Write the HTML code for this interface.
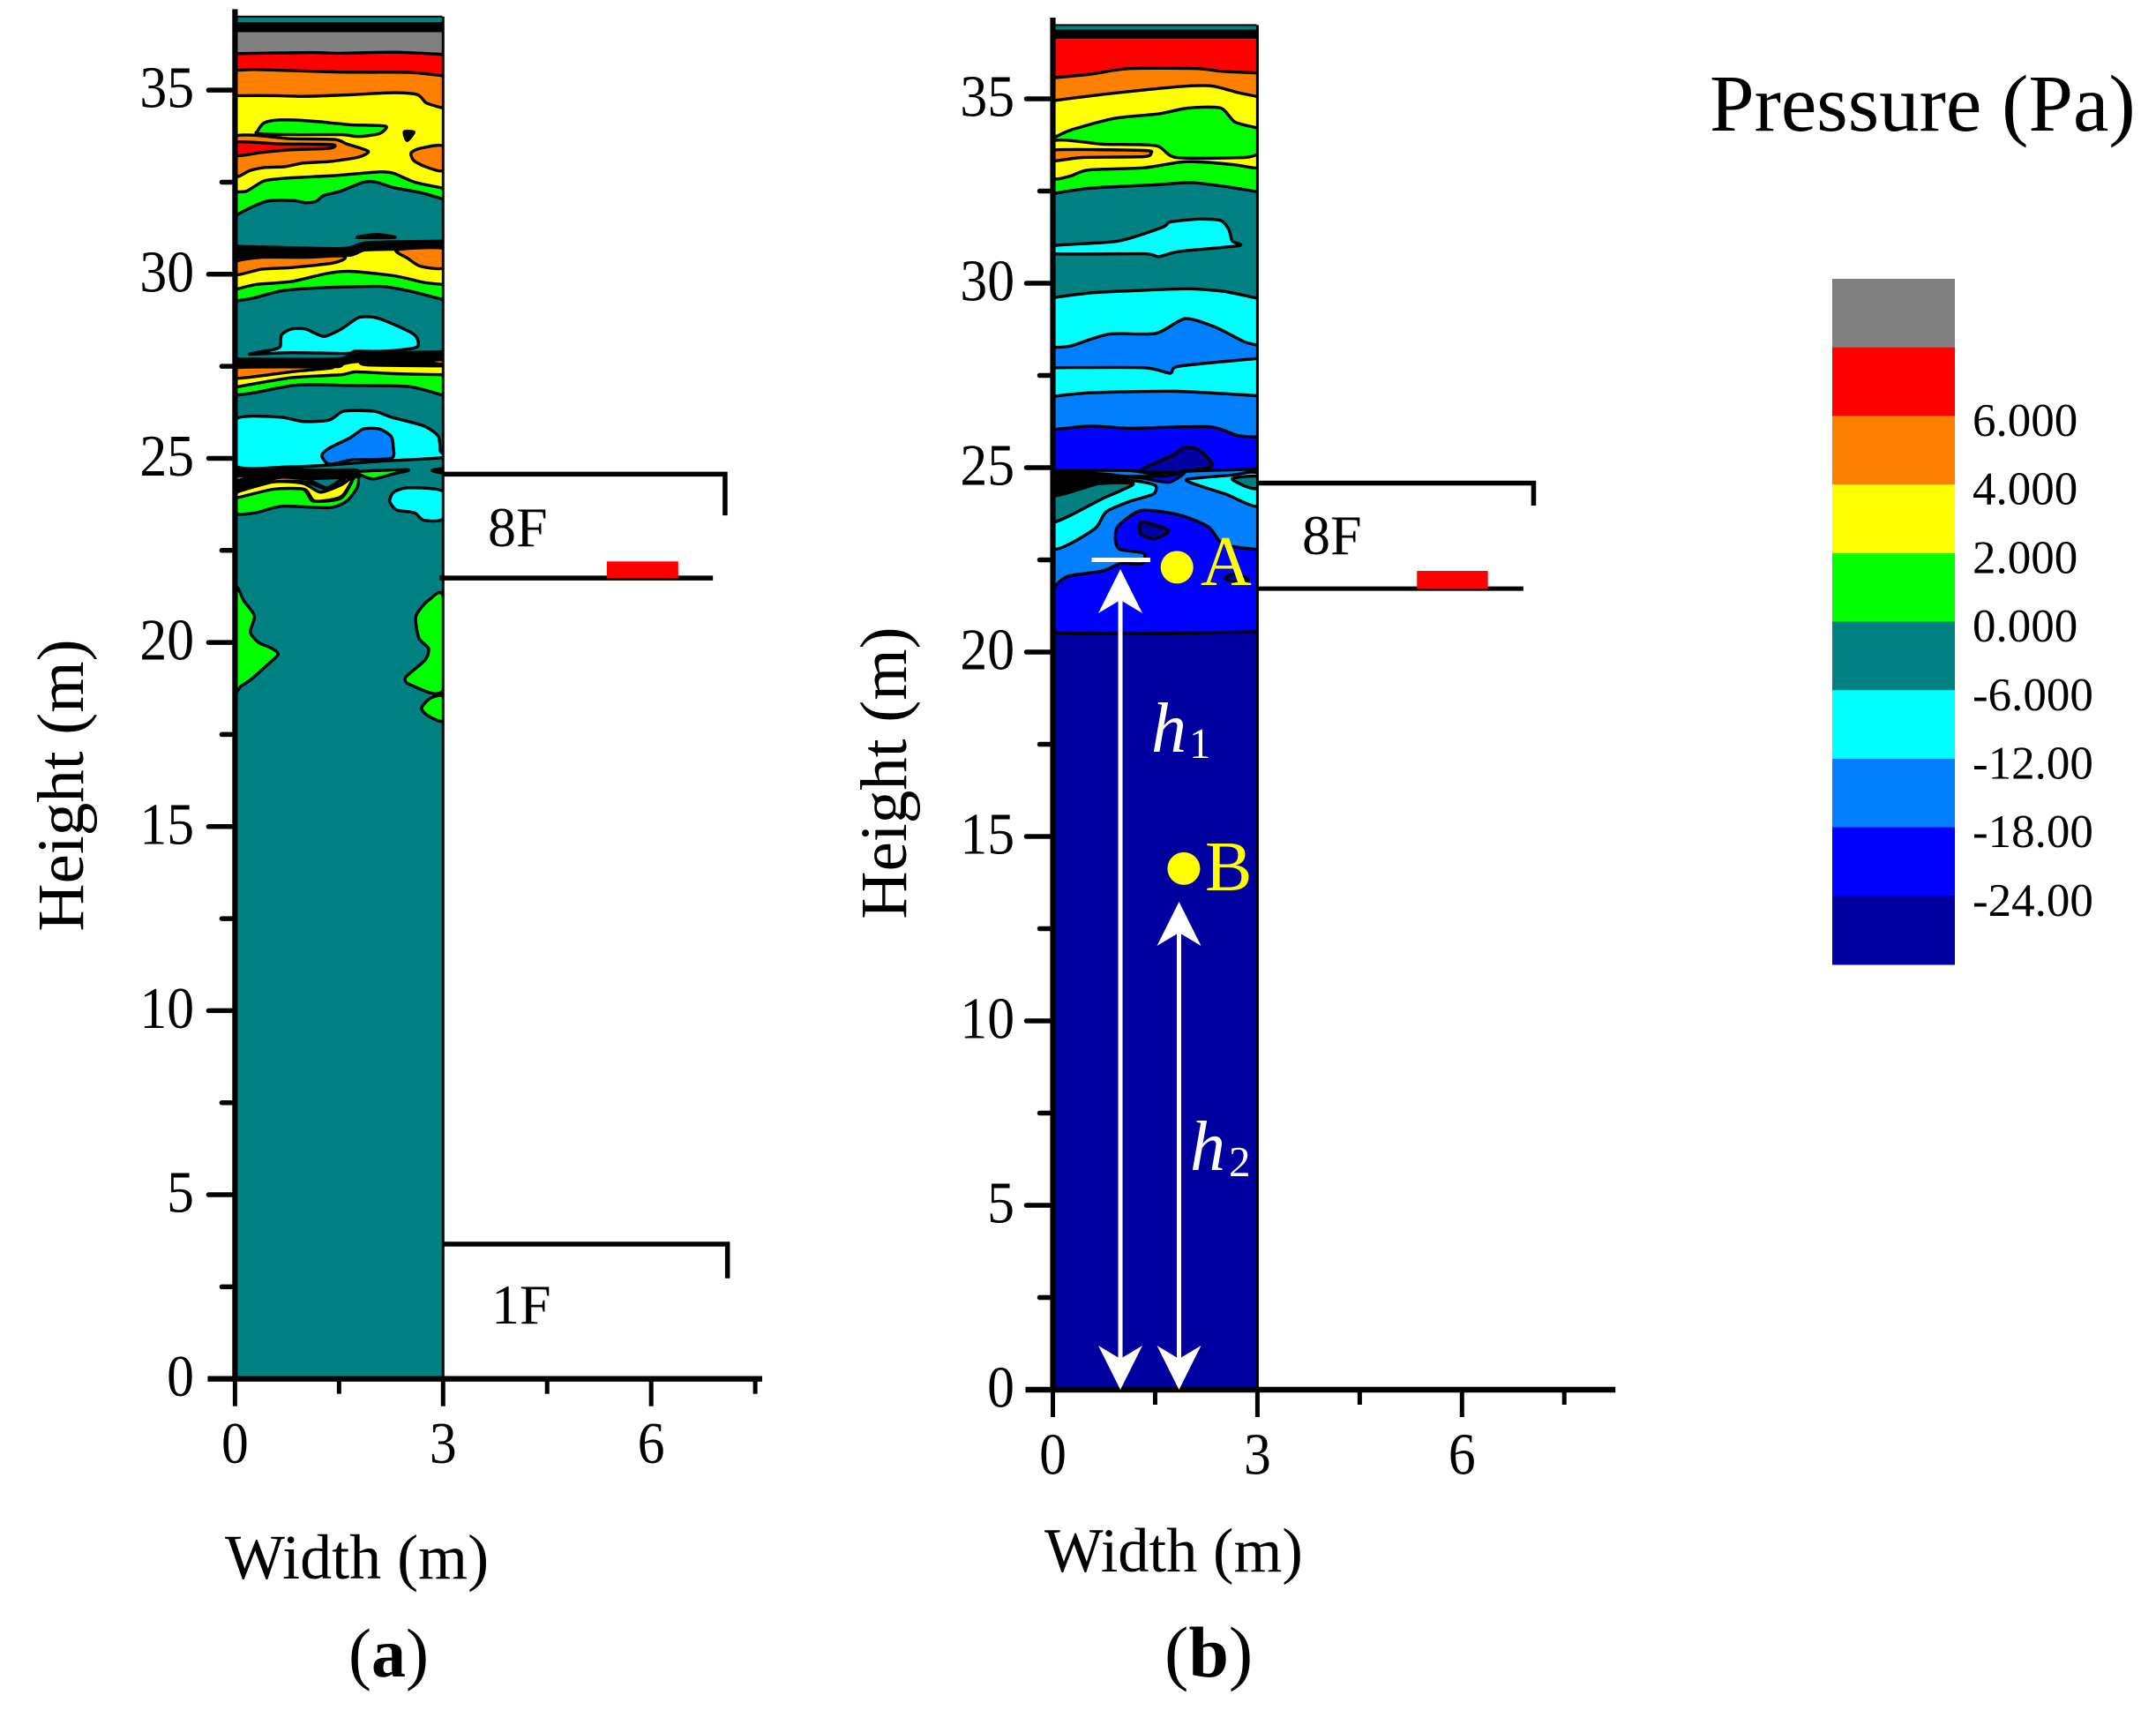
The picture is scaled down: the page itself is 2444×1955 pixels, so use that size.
<!DOCTYPE html>
<html lang="en">
<head>
<meta charset="utf-8">
<title>Pressure contours</title>
<style>
html,body{margin:0;padding:0;background:#fff;}
body{width:2444px;height:1955px;overflow:hidden;}
svg{display:block;}
text{font-family:"Liberation Serif",serif;fill:#000;}
</style>
</head>
<body>
<svg id="fig" xmlns="http://www.w3.org/2000/svg" width="2444" height="1955" viewBox="0 0 2444 1955">
  <rect width="2444" height="1955" fill="#fff"/>
  <text x="1938" y="148" font-size="91">Pressure (Pa)</text>
  <text x="255" y="1789" font-size="72">Width (m)</text>
  <text x="1184" y="1781" font-size="70.5">Width (m)</text>
  <text transform="translate(94,890) rotate(-90)" text-anchor="middle" font-size="75">Height (m)</text>
  <text transform="translate(1027,876) rotate(-90)" text-anchor="middle" font-size="75">Height (m)</text>
  <text x="395" y="1900" font-size="78">(<tspan font-weight="bold">a</tspan>)</text>
  <text x="1320" y="1900" font-size="82">(<tspan font-weight="bold">b</tspan>)</text>
  <g id="panelA"></g>
  <g id="panelB"></g>
  <g id="legend"></g>
</svg>
<script>
// ---------- Palette and legend data ----------
const GRAY='#808080',RED='#ff0000',ORANGE='#ff8000',YELLOW='#ffff00',GREEN='#00ff00',TEAL='#008080',CYAN='#00ffff',BLUE='#0080ff',BRIGHT='#0000ff',NAVY='#0000a0',BLACK='#000000';
const legendColors=[GRAY,RED,ORANGE,YELLOW,GREEN,TEAL,CYAN,BLUE,BRIGHT,NAVY];
const legendLabels=['6.000','4.000','2.000','0.000','-6.000','-12.00','-18.00','-24.00'];

// ---------- Axis tick values ----------
const yMajorTicks=[0,5,10,15,20,25,30,35];
const yMinorTicks=[2.5,7.5,12.5,17.5,22.5,27.5,32.5];
const xMajorTicks=[0,3,6];
const xMinorTicks=[1.5,4.5,7.5];

// ---------- Panel (a) contours: [width m, height m] ----------
const aRedTop=[[0,35.99],[1.1,36.02],[1.5,36.0],[2.3,36.03],[3,35.97]];
const aOrangeTop=[[0,35.53],[0.3,35.56],[1.5,35.49],[2.5,35.48],[3,35.39]];
const aYellowTop=[[0,34.85],[0.6,34.85],[1,34.83],[1.6,34.87],[2.29,34.93],[2.63,34.88],[2.76,34.65],[3,34.51]];
const aGreenIsland=[[0.33,33.9],[0.41,34.1],[0.56,34.18],[0.85,34.19],[1.23,34.14],[1.66,34.06],[2.17,34.02],[2.08,33.82],[1.78,33.74],[1.53,33.79],[0.81,33.79],[0.33,33.82]];
const aBlackSpot=[[2.44,33.87],[2.58,33.86],[2.48,33.63]];
const aOrangeTongue=[[0,33.74],[0.81,33.68],[1.44,33.66],[1.61,33.54],[1.92,33.34],[1.78,33.18],[1.36,33.06],[0.98,33.02],[0.72,32.92],[0.43,32.9],[0.22,32.82],[0,32.68]];
const aRedTongue=[[0,33.59],[0.64,33.54],[1.4,33.52],[1.36,33.42],[0.81,33.38],[0.39,33.31],[0,33.22]];
const aOrangeRight=[[3,33.48],[2.67,33.42],[2.54,33.3],[2.57,33.1],[2.72,32.94],[3,32.82]];
const aGreenTop=[[0,32.24],[0.17,32.26],[0.43,32.54],[0.81,32.62],[1.44,32.68],[2.08,32.78],[2.29,32.74],[2.59,32.5],[3,32.34]];
const aTealTop=[[0,31.58],[0.17,31.76],[0.47,31.99],[0.85,32],[1.02,31.94],[1.17,31.98],[1.28,32.14],[1.53,32.26],[1.85,32.5],[2.04,32.5],[2.29,32.35],[2.67,32.22],[3,32.04]];
const aBlackDash=[[1.76,31],[2.04,31.08],[2.31,31]];
const aBlackBand1=[[0,30.76],[1.53,30.7],[1.91,30.86],[3,30.9]];
const aYellow2Top=[[0,30.46],[1.53,30.5],[1.74,30.56],[1.87,30.66],[2.33,30.68],[3,30.7]];
const aOrange2Left=[[0,30.34],[0.39,30.46],[1.02,30.46],[1.53,30.5],[1.58,30.42],[1.4,30.3],[0.81,30.18],[0.39,30.14],[0,29.98]];
const aOrange2Right=[[2.33,30.66],[2.5,30.42],[2.67,30.22],[3,30.17],[3,30.7]];
const aGreen2Top=[[0,29.58],[0.3,29.72],[0.81,29.8],[1.32,30.02],[1.66,30.08],[2.29,29.96],[2.72,29.78],[3,29.72]];
const aTeal2Top=[[0,29.27],[0.26,29.35],[0.68,29.55],[1.23,29.63],[2.08,29.67],[2.5,29.55],[3,29.31]];
const aCyanIsland=[[0.21,27.83],[0.51,27.94],[0.65,28.03],[0.67,28.35],[0.81,28.51],[1.02,28.51],[1.28,28.31],[1.53,28.51],[1.78,28.82],[2,28.83],[2.25,28.67],[2.59,28.35],[2.62,28.02],[2.17,27.91],[1.74,27.91],[1.61,27.85],[0.81,27.87]];
const aBlackBand2=[[0,27.7],[1.44,27.7],[1.78,27.83],[3,27.9]];
const aYellow3Top=[[0,27.46],[1.06,27.49],[1.49,27.49],[1.57,27.57],[1.78,27.63],[1.91,27.54],[3,27.51]];
const aOrange3Left=[[0,27.46],[1.4,27.47],[0.81,27.35],[0,27.17]];
const aOrange3Right=[[2.72,27.62],[3,27.68],[3,27.56]];
const aGreen3Top=[[0,26.93],[0.81,27.19],[1.53,27.27],[1.74,27.35],[2.29,27.3],[3,27.27]];
const aTeal3Top=[[0,26.71],[0.3,26.79],[0.89,26.99],[1.66,26.98],[2.5,26.95],[3,26.71]];
const aCyanBig=[[0,26.05],[0.64,26.12],[0.98,26],[1.36,26.04],[1.57,26.28],[2,26.28],[2.25,26.12],[2.72,25.88],[2.93,25.6],[2.96,25.2],[3,25.02],[2.08,24.92],[1.36,24.82],[0.81,24.77],[0,24.8]];
const aBlueIsland=[[1.25,25.08],[1.36,25.28],[1.66,25.56],[1.85,25.8],[2.08,25.8],[2.25,25.6],[2.28,25.32],[2.25,25],[1.7,24.96],[1.36,24.84]];
const aGreenWave=[[0,23.92],[0.53,24.16],[0.98,24.16],[1.13,23.84],[1.53,23.92],[1.72,24.48],[1.78,24.48],[1.76,24.2],[1.61,23.84],[1.36,23.66],[0.68,23.7],[0.3,23.52],[0,23.5]];
const aYellowWave=[[0,24.06],[0.53,24.36],[0.98,24.32],[1.23,24.08],[1.53,24.28],[1.7,24.48],[1.53,23.96],[1.15,23.84],[1,24.16],[0.55,24.16],[0,23.92]];
const aOrangeWave=[[0,24.16],[0.64,24.48],[1.02,24.45],[1.32,24.2],[1.57,24.48],[1.53,24.32],[1.32,24.16],[1.02,24.36],[0.55,24.36],[0,24.08]];
const aBlackWave=[[0,24.68],[1.36,24.68],[1.75,24.68],[1.8,24.52],[1.57,24.48],[1.02,24.45],[0.64,24.48],[0,24.2]];
const aGrayWedge=[[0,24.52],[0.2,24.5],[0,24.38]];
const aGreenSliver=[[1.78,24.64],[2.5,24.69],[2.25,24.56],[2,24.44],[1.85,24.52]];
const aBlackSliver=[[2.84,24.67],[3,24.72],[3,24.6]];
const aCyanRight=[[3,24.1],[2.5,24.2],[2.29,24.08],[2.23,23.84],[2.33,23.6],[2.59,23.52],[2.72,23.32],[3,23.36]];
const aGreenLeft=[[0,21.44],[0.13,21.12],[0.28,20.72],[0.22,20.28],[0.34,20],[0.53,19.84],[0.62,19.67],[0.43,19.33],[0.24,19.01],[0.09,18.82],[0,18.81]];
const aGreenRight=[[3,21.23],[2.8,21.16],[2.61,20.72],[2.65,20.12],[2.79,19.84],[2.74,19.52],[2.46,19.05],[2.53,18.85],[3,18.71]];
const aGreenRight2=[[3,18.53],[2.82,18.49],[2.69,18.22],[2.78,18.01],[3,17.87]];

// ---------- Panel (b) contours: [width m, height m] ----------
const bOrangeTop=[[0,35.57],[0.56,35.67],[1.12,35.82],[2.11,35.82],[2.46,35.75],[3,35.7]];
const bYellowTop=[[0,34.95],[0.78,35.13],[1.85,35.33],[2.33,35.35],[2.71,35.17],[3,35.06]];
const bGreenTop=[[0,33.93],[0.26,34.15],[0.9,34.47],[1.55,34.59],[1.98,34.75],[2.46,34.75],[2.67,34.37],[3,34.21]];
const bYellowTongue=[[0,33.85],[0.73,33.77],[1.51,33.73],[1.81,33.41],[2.8,33.41],[3,33.47],[3,33.13],[2.67,33.21],[2.15,33.29],[1.85,33.28],[1.33,33.13],[0.52,33.07],[0.26,32.91],[0,32.87]];
const bOrangeTongue=[[0,33.61],[1.33,33.6],[1.44,33.53],[1.33,33.43],[0.43,33.41],[0,33.32]];
const bTealTop=[[0,32.43],[0.56,32.58],[1.51,32.67],[2.02,32.73],[2.5,32.63],[3,32.48]];
const bCyanIsland=[[0,31.02],[0.95,31.14],[1.61,31.52],[1.72,31.66],[2.15,31.74],[2.46,31.7],[2.58,31.46],[2.63,31.14],[2.73,31.02],[1.85,30.86],[1.55,30.72],[1.33,30.8],[0,30.8]];
const bCyanTop=[[0,29.61],[0.56,29.74],[1.2,29.8],[1.98,29.85],[2.5,29.78],[3,29.59]];
const bBlueTop=[[0,28.26],[0.26,28.3],[0.82,28.62],[1.51,28.64],[1.94,29.04],[2.37,28.82],[2.8,28.42],[3,28.32]];
const bCyan2Top=[[0,27.71],[1.33,27.71],[1.72,27.56],[1.85,27.75],[3,27.96]];
const bBlue2Top=[[0,26.93],[0.56,27.03],[1.81,27.07],[3,26.95]];
const bBrightTop=[[0,26.03],[0.56,26.13],[1.12,26.07],[2.28,26.11],[2.71,25.87],[3,25.83]];
const bNavyHump=[[1.29,24.92],[1.72,25.31],[1.94,25.55],[2.15,25.47],[2.33,25.04],[1.77,24.88]];
const bBlue3Top=[[0,24.92],[1.12,24.92],[1.64,24.77],[1.94,24.9],[3,24.96]];
const bBrightSliver=[[0.78,24.76],[1.64,24.77],[1.94,24.88],[1.7,24.6],[1.3,24.72]];
const bCyanLeft=[[0,24.2],[0.65,24.64],[1.2,24.64],[1.5,24.52],[1.47,24.28],[1.12,24.08],[0.78,23.8],[0.6,23.32],[0,22.8]];
const bTealLeft=[[0,24.28],[0.65,24.56],[1.18,24.56],[0.73,24.16],[0,23.52]];
const bBlackLeft=[[0,24.88],[0.65,24.84],[1.1,24.74],[0.65,24.56],[0,24.24]];
const bGreenSliver=[[0.04,24.36],[0.47,24.48],[0.15,24.32]];
const bCyanRight=[[1.96,24.68],[2.63,24.8],[3,24.84],[3,23.96],[2.54,24.28],[2.2,24.48]];
const bTealRight=[[2.63,24.7],[3,24.76],[3,24.44],[2.84,24.48]];
const bBright2Top=[[0,21.73],[0.21,22.05],[0.73,22.2],[0.99,22.4],[1.31,22.4],[1.33,22.68],[0.99,22.78],[0.92,23],[0.95,23.4],[1.29,23.84],[1.85,23.72],[2.28,23.4],[2.5,22.92],[3,22.78]];
const bNavySpot=[[1.29,23.52],[1.51,23.44],[1.7,23.28],[1.49,23.07],[1.29,23.2]];
const bNavySpot2=[[2.52,22],[2.67,22.12],[2.87,21.97],[2.71,21.89]];
const bNavyTop=[[0,20.52],[1,20.5],[2,20.52],[3,20.55]];

// ---------- Annotations in panel (b), data units ----------
const pointA=[1.82,22.3];
const pointB=[1.92,14.13];
const arrowH1=[0.99,22.25,0];
const arrowH2=[1.85,13.23,0];
const tickMarkA=[0.57,1.43,22.5];

// ---------- Band/cap heights ----------
const aCapHeights=[37,36.85,36.57];
const bCapHeights=[37,36.88,36.62];

const NS='http://www.w3.org/2000/svg';
const CONTOUR_W=3.4;
function mk(parent,tag,attrs,name){
  const el=document.createElementNS(NS,tag);
  for(const k in attrs) el.setAttribute(k,attrs[k]);
  
  
  parent.appendChild(el);
  return el;
}
function makeAxes(x0,xPerM,y0,yPerM){
  return {x:v=>x0+v*xPerM,y:v=>y0-v*yPerM};
}
function smooth(pts,closed){
  const n=pts.length;
  if(n<3) return 'M'+pts.map(p=>p[0].toFixed(1)+' '+p[1].toFixed(1)).join('L');
  const at=i=>closed?pts[(i+n)%n]:pts[Math.max(0,Math.min(n-1,i))];
  let d='M'+pts[0][0].toFixed(1)+' '+pts[0][1].toFixed(1);
  const last=closed?n:n-1;
  for(let i=0;i<last;i++){
    const p0=at(i-1),p1=at(i),p2=at(i+1),p3=at(i+2);
    const t=0.12;
    d+='C'+(p1[0]+(p2[0]-p0[0])*t).toFixed(1)+' '+(p1[1]+(p2[1]-p0[1])*t).toFixed(1)+' '+(p2[0]-(p3[0]-p1[0])*t).toFixed(1)+' '+(p2[1]-(p3[1]-p1[1])*t).toFixed(1)+' '+p2[0].toFixed(1)+' '+p2[1].toFixed(1);
  }
  return d;
}
function fillBelow(g,ax,pts,color,name){
  const P=pts.map(p=>[ax.x(p[0]),ax.y(p[1])]);
  const line=smooth(P,false);
  const d=line+'L'+ax.x(3)+' '+ax.y(0)+'L'+ax.x(0)+' '+ax.y(0)+'Z';
  mk(g,'path',{d:d,fill:color,stroke:'none'},name);
  mk(g,'path',{d:line,fill:'none',stroke:'#000','stroke-width':CONTOUR_W,'stroke-linejoin':'round'},name+'-line');
}
function island(g,ax,pts,color,name){
  const P=pts.map(p=>[ax.x(p[0]),ax.y(p[1])]);
  mk(g,'path',{d:smooth(P,true)+'Z',fill:color,stroke:'#000','stroke-width':CONTOUR_W,'stroke-linejoin':'round'},name);
}
function capBand(g,ax,h1,h2,color,name){
  mk(g,'rect',{x:ax.x(0),y:ax.y(h1),width:ax.x(3)-ax.x(0),height:ax.y(h2)-ax.y(h1),fill:color},name);
}
function tickText(g,x,y,s,anchor,name){
  const t=mk(g,'text',{transform:'translate('+x+','+y+') scale(0.92,1)','text-anchor':anchor,'font-size':67},name);
  t.textContent=s;
}
function drawAxes(g,ax,xEnd,yLeftExt,labelRight,labelBase,pn){
  mk(g,'line',{x1:ax.x(3),y1:ax.y(37),x2:ax.x(3),y2:ax.y(0),stroke:'#000','stroke-width':3},pn+'-panel-right-edge');
  mk(g,'line',{x1:ax.x(3)-1,y1:ax.y(37),x2:ax.x(0),y2:ax.y(37),stroke:'#000','stroke-width':2},pn+'-panel-top-edge');
  mk(g,'line',{x1:ax.x(0),y1:ax.y(37.2),x2:ax.x(0),y2:ax.y(0)+3,stroke:'#000','stroke-width':6.2},pn+'-y-axis-line');
  mk(g,'line',{x1:yLeftExt,y1:ax.y(0),x2:ax.x(xEnd),y2:ax.y(0),stroke:'#000','stroke-width':6.4},pn+'-x-axis-line');
  yMajorTicks.forEach(v=>{
    if(v>0) mk(g,'line',{x1:ax.x(0)-30,y1:ax.y(v),x2:ax.x(0),y2:ax.y(v),stroke:'#000','stroke-width':5.5,'stroke-linecap':'round'},pn+'-y-tick');
    tickText(g,labelRight,ax.y(v)+19.5,String(v),'end',pn+'-y-tick-label');
  });
  yMinorTicks.forEach(v=>{
    mk(g,'line',{x1:ax.x(0)-15,y1:ax.y(v),x2:ax.x(0),y2:ax.y(v),stroke:'#000','stroke-width':5.5,'stroke-linecap':'round'},pn+'-y-minor-tick');
  });
  xMajorTicks.forEach(v=>{
    mk(g,'line',{x1:ax.x(v),y1:ax.y(0),x2:ax.x(v),y2:ax.y(0)+31,stroke:'#000','stroke-width':5},pn+'-x-tick');
    tickText(g,ax.x(v),labelBase,String(v),'middle',pn+'-x-tick-label');
  });
  xMinorTicks.forEach(v=>{
    mk(g,'line',{x1:ax.x(v),y1:ax.y(0),x2:ax.x(v),y2:ax.y(0)+17,stroke:'#000','stroke-width':5},pn+'-x-minor-tick');
  });
}
function floorOutline(g,ax,yTopH,xEndM,yDropH,pn,label){
  const xs=ax.x(3);
  mk(g,'path',{d:'M'+xs+' '+ax.y(yTopH)+'L'+ax.x(xEndM)+' '+ax.y(yTopH)+'L'+ax.x(xEndM)+' '+ax.y(yDropH),fill:'none',stroke:'#000','stroke-width':5.5},pn+'-'+label+'-wall');
}
function clipGroup(svgRoot,parent,ax,id){
  const defs=mk(svgRoot,'defs',{},id+'-defs');
  const cp=document.createElementNS(NS,'clipPath');
  cp.setAttribute('id',id);
  defs.appendChild(cp);
  const r=document.createElementNS(NS,'rect');
  r.setAttribute('x',ax.x(0));
  r.setAttribute('y',ax.y(37));
  r.setAttribute('width',ax.x(3)-ax.x(0));
  r.setAttribute('height',ax.y(0)-ax.y(37));
  cp.appendChild(r);
  return mk(parent,'g',{'clip-path':'url(#'+id+')'},id+'-contours');
}

const svgRoot=document.getElementById('fig');

// ===== Panel (a) =====
(function(){
  const root=document.getElementById('panelA');
  const ax=makeAxes(266.4,78.63,1562.7,41.73);
  const g=clipGroup(svgRoot,root,ax,'clipA');
  capBand(g,ax,aCapHeights[0],aCapHeights[1],TEAL,'a-top-teal-band');
  capBand(g,ax,aCapHeights[1],aCapHeights[2],BLACK,'a-top-black-band');
  capBand(g,ax,aCapHeights[2],35.5,GRAY,'a-gray-band');
  fillBelow(g,ax,aRedTop,RED,'a-red-region');
  fillBelow(g,ax,aOrangeTop,ORANGE,'a-orange-region');
  fillBelow(g,ax,aYellowTop,YELLOW,'a-yellow-region');
  island(g,ax,aGreenIsland,GREEN,'a-green-island');
  island(g,ax,aBlackSpot,BLACK,'a-black-spot');
  island(g,ax,aOrangeTongue,ORANGE,'a-orange-tongue');
  island(g,ax,aRedTongue,RED,'a-red-tongue');
  island(g,ax,aOrangeRight,ORANGE,'a-orange-right');
  fillBelow(g,ax,aGreenTop,GREEN,'a-green-region');
  fillBelow(g,ax,aTealTop,TEAL,'a-teal-region');
  island(g,ax,aBlackDash,BLACK,'a-black-dash');
  fillBelow(g,ax,aBlackBand1,BLACK,'a-black-band-30');
  fillBelow(g,ax,aYellow2Top,YELLOW,'a-yellow-region-2');
  island(g,ax,aOrange2Left,ORANGE,'a-orange-left-2');
  island(g,ax,aOrange2Right,ORANGE,'a-orange-right-2');
  fillBelow(g,ax,aGreen2Top,GREEN,'a-green-region-2');
  fillBelow(g,ax,aTeal2Top,TEAL,'a-teal-region-2');
  island(g,ax,aCyanIsland,CYAN,'a-cyan-island');
  fillBelow(g,ax,aBlackBand2,BLACK,'a-black-band-27');
  fillBelow(g,ax,aYellow3Top,YELLOW,'a-yellow-region-3');
  island(g,ax,aOrange3Left,ORANGE,'a-orange-left-3');
  island(g,ax,aOrange3Right,ORANGE,'a-orange-right-3');
  fillBelow(g,ax,aGreen3Top,GREEN,'a-green-region-3');
  fillBelow(g,ax,aTeal3Top,TEAL,'a-teal-region-3');
  island(g,ax,aCyanBig,CYAN,'a-cyan-big');
  island(g,ax,aBlueIsland,BLUE,'a-blue-island');
  island(g,ax,aGreenWave,GREEN,'a-green-wave');
  island(g,ax,aYellowWave,YELLOW,'a-yellow-wave');
  island(g,ax,aOrangeWave,ORANGE,'a-orange-wave');
  island(g,ax,aBlackWave,BLACK,'a-black-wave');
  island(g,ax,aGrayWedge,GRAY,'a-gray-wedge');
  island(g,ax,aGreenSliver,GREEN,'a-green-sliver');
  island(g,ax,aBlackSliver,BLACK,'a-black-sliver');
  island(g,ax,aCyanRight,CYAN,'a-cyan-right');
  island(g,ax,aGreenLeft,GREEN,'a-green-left');
  island(g,ax,aGreenRight,GREEN,'a-green-right');
  island(g,ax,aGreenRight2,GREEN,'a-green-right-2');
  drawAxes(root,ax,7.6,ax.x(0)-31,220,1658,'a');
  floorOutline(root,ax,24.57,7.065,23.45,'a','8f');
  mk(root,'line',{x1:ax.x(3)-4,y1:ax.y(21.75),x2:ax.x(6.89),y2:ax.y(21.75),stroke:'#000','stroke-width':5.5},'a-8f-floor');
  mk(root,'rect',{x:ax.x(5.36),y:ax.y(22.2),width:ax.x(6.39)-ax.x(5.36),height:ax.y(21.75)-ax.y(22.2),fill:RED},'a-8f-fire-source');
  floorOutline(root,ax,3.66,7.1,2.73,'a','1f');
  const t8=mk(root,'text',{x:553,y:619,'font-size':64},'a-8f-label');
  t8.textContent='8F';
  const t1=mk(root,'text',{x:557,y:1500,'font-size':64},'a-1f-label');
  t1.textContent='1F';
})();

// ===== Panel (b) =====
(function(){
  const root=document.getElementById('panelB');
  const ax=makeAxes(1193.5,77.3,1575,41.8);
  const g=clipGroup(svgRoot,root,ax,'clipB');
  capBand(g,ax,bCapHeights[0],bCapHeights[1],TEAL,'b-top-teal-band');
  capBand(g,ax,bCapHeights[1],bCapHeights[2],BLACK,'b-top-black-band');
  capBand(g,ax,bCapHeights[2],35,RED,'b-red-region');
  fillBelow(g,ax,bOrangeTop,ORANGE,'b-orange-region');
  fillBelow(g,ax,bYellowTop,YELLOW,'b-yellow-region');
  fillBelow(g,ax,bGreenTop,GREEN,'b-green-region');
  island(g,ax,bYellowTongue,YELLOW,'b-yellow-tongue');
  island(g,ax,bOrangeTongue,ORANGE,'b-orange-tongue');
  fillBelow(g,ax,bTealTop,TEAL,'b-teal-region');
  island(g,ax,bCyanIsland,CYAN,'b-cyan-island');
  fillBelow(g,ax,bCyanTop,CYAN,'b-cyan-region');
  fillBelow(g,ax,bBlueTop,BLUE,'b-blue-region');
  fillBelow(g,ax,bCyan2Top,CYAN,'b-cyan-region-2');
  fillBelow(g,ax,bBlue2Top,BLUE,'b-blue-region-2');
  fillBelow(g,ax,bBrightTop,BRIGHT,'b-bright-blue-region');
  island(g,ax,bNavyHump,NAVY,'b-navy-hump');
  fillBelow(g,ax,bBlue3Top,BLUE,'b-blue-region-3');
  island(g,ax,bBrightSliver,BRIGHT,'b-bright-sliver');
  island(g,ax,bCyanLeft,CYAN,'b-cyan-left');
  island(g,ax,bTealLeft,TEAL,'b-teal-left');
  island(g,ax,bBlackLeft,BLACK,'b-black-left');
  island(g,ax,bGreenSliver,GREEN,'b-green-sliver');
  island(g,ax,bCyanRight,CYAN,'b-cyan-right');
  island(g,ax,bTealRight,TEAL,'b-teal-right');
  fillBelow(g,ax,bBright2Top,BRIGHT,'b-bright-blue-region-2');
  island(g,ax,bNavySpot,NAVY,'b-navy-spot');
  island(g,ax,bNavySpot2,NAVY,'b-navy-spot-2');
  fillBelow(g,ax,bNavyTop,NAVY,'b-navy-region');
  drawAxes(root,ax,8.25,ax.x(0)-31,1150,1670.5,'b');
  floorOutline(root,ax,24.58,7.05,23.97,'b','8f');
  mk(root,'line',{x1:ax.x(3),y1:ax.y(21.72),x2:ax.x(6.9),y2:ax.y(21.72),stroke:'#000','stroke-width':5},'b-8f-floor');
  mk(root,'rect',{x:ax.x(5.34),y:ax.y(22.2),width:ax.x(6.38)-ax.x(5.34),height:ax.y(21.72)-ax.y(22.2),fill:RED},'b-8f-fire-source');
  const t8=mk(root,'text',{x:1476,y:628,'font-size':64},'b-8f-label');
  t8.textContent='8F';

  function arrow(spec,name){
    const x=ax.x(spec[0]),yt=ax.y(spec[1]),yb=ax.y(spec[2]);
    mk(root,'line',{x1:x,y1:yt+30,x2:x,y2:yb-30,stroke:'#fff','stroke-width':5},name+'-shaft');
    mk(root,'path',{d:'M'+x+' '+yt+'L'+(x+25)+' '+(yt+50)+'L'+x+' '+(yt+35)+'L'+(x-25)+' '+(yt+50)+'Z',fill:'#fff'},name+'-head-top');
    mk(root,'path',{d:'M'+x+' '+yb+'L'+(x+25)+' '+(yb-50)+'L'+x+' '+(yb-35)+'L'+(x-25)+' '+(yb-50)+'Z',fill:'#fff'},name+'-head-bottom');
  }
  arrow(arrowH1,'h1-arrow');
  arrow(arrowH2,'h2-arrow');
  mk(root,'line',{x1:ax.x(tickMarkA[0]),y1:ax.y(tickMarkA[2]),x2:ax.x(tickMarkA[1]),y2:ax.y(tickMarkA[2]),stroke:'#fff','stroke-width':5},'point-a-level-line');
  mk(root,'circle',{cx:ax.x(pointA[0]),cy:ax.y(pointA[1]),r:18.5,fill:YELLOW},'point-a');
  mk(root,'circle',{cx:ax.x(pointB[0]),cy:ax.y(pointB[1]),r:18.5,fill:YELLOW},'point-b');
  const ta=mk(root,'text',{x:1361,y:663,'font-size':80,style:'fill:#ffff00'},'point-a-label');
  ta.textContent='A';
  const tb=mk(root,'text',{x:1366,y:1009,'font-size':80,style:'fill:#ffff00'},'point-b-label');
  tb.textContent='B';
  const h1=mk(root,'text',{x:1305,y:852,'font-size':80,'font-style':'italic',style:'fill:#fff'},'h1-label');
  h1.textContent='h';
  const h1s=mk(root,'text',{x:1348,y:859,'font-size':49,style:'fill:#fff'},'h1-subscript');
  h1s.textContent='1';
  const h2=mk(root,'text',{x:1349,y:1326,'font-size':80,'font-style':'italic',style:'fill:#fff'},'h2-label');
  h2.textContent='h';
  const h2s=mk(root,'text',{x:1393,y:1333,'font-size':49,style:'fill:#fff'},'h2-subscript');
  h2s.textContent='2';
})();

// ===== Legend =====
(function(){
  const g=document.getElementById('legend');
  const lx=2077,ly=316,lw=139,lh=77.7;
  legendColors.forEach((c,i)=>{
    mk(g,'rect',{x:lx,y:ly+i*lh,width:lw,height:lh+0.5,fill:c},'legend-swatch');
  });
  legendLabels.forEach((s,i)=>{
    const t=mk(g,'text',{x:2236,y:494+i*lh,'font-size':53},'legend-label');
    t.textContent=s;
  });
})();
</script>
</body>
</html>
